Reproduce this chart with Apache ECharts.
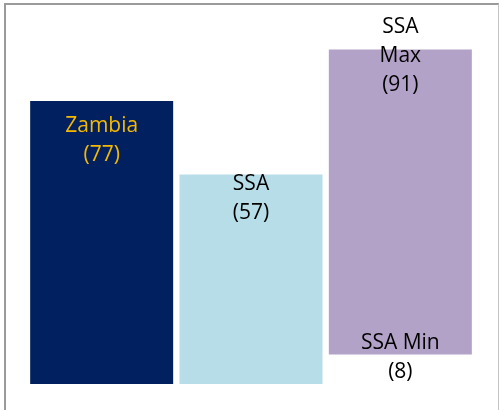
<!DOCTYPE html>
<html>
<head>
<meta charset="utf-8">
<script src="https://cdn.jsdelivr.net/npm/echarts@6/dist/echarts.min.js"></script>
<style>
  html, body { margin: 0; padding: 0; background: #fff; }
  .frame {
    position: absolute; left: 4px; top: 3px; width: 492px; height: 420px;
    border-top: 2px solid #9a9a9a; border-left: 2px solid #9a9a9a; border-right: 1px solid #c4c4c4;
  }
  #chart { position: absolute; left: 0; top: 0; width: 499px; height: 410px; }
</style>
</head>
<body>
<div class="frame"></div>
<div id="chart"></div>
<script>
// values
const categories = ['Zambia', 'SSA', 'SSA range'];
const averages = [77, 57, null];
const rangeMin = [null, null, 8];
const rangeMax = [null, null, 91];
const colors = ['#002060', '#b7dee8', '#b3a2c7'];

const font = { fontFamily: 'Open Sans', fontSize: 21, lineHeight: 29 };

const chart = echarts.init(document.getElementById('chart'));

// main bars (Zambia, SSA)
const mainData = averages.map(function (v, i) {
  if (v == null) return '-';
  const item = { value: v, itemStyle: { color: colors[i] } };
  if (i === 0) {
    item.label = Object.assign({ show: true, position: 'insideTop', distance: 10,
      color: '#f5b800', formatter: categories[i] + '\n(' + v + ')' }, font);
  } else {
    item.label = Object.assign({ show: true, position: 'insideTop', distance: 0, offset: [0, -5],
      color: '#000', formatter: categories[i] + '\n(' + v + ')' }, font);
  }
  return item;
});

// invisible base up to the SSA minimum, carries the min label
const baseData = rangeMin.map(function (v) {
  if (v == null) return '-';
  return {
    value: v,
    itemStyle: { color: 'transparent' },
    label: Object.assign({ show: true, position: 'insideTop', distance: 0, offset: [0, -26],
      color: '#000', formatter: 'SSA Min\n(' + v + ')' }, font)
  };
});

// min-max span, carries the max label
const spanData = rangeMax.map(function (v, i) {
  if (v == null) return '-';
  return {
    value: v - rangeMin[i],
    itemStyle: { color: colors[i] },
    label: Object.assign({ show: true, position: 'insideTop', distance: 0, offset: [0, -37],
      color: '#000', formatter: 'SSA\nMax\n(' + v + ')' }, font)
  };
});

chart.setOption({
  animation: false,
  grid: { left: 27, right: 24, top: 16.5, bottom: 26 },
  xAxis: { type: 'category', data: categories, show: false },
  yAxis: { type: 'value', min: 0, max: 100, show: false },
  series: [
    { type: 'bar', barWidth: 143, barGap: '-100%', data: mainData, silent: true },
    { type: 'bar', stack: 'range', barWidth: 143, barGap: '-100%', data: baseData, silent: true, z: 3 },
    { type: 'bar', stack: 'range', barWidth: 143, barGap: '-100%', data: spanData, silent: true }
  ]
});
</script>
</body>
</html>
